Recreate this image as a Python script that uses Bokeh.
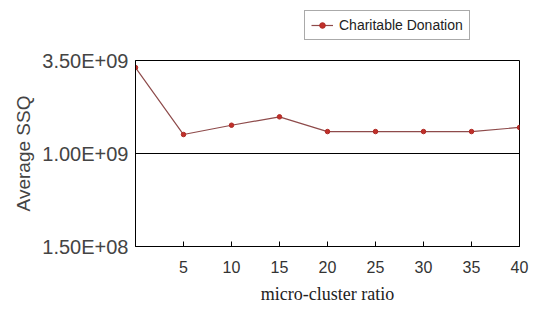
from bokeh.plotting import figure
from bokeh.layouts import column
from bokeh.models import FixedTicker, Legend, LegendItem, Range1d
from bokeh.embed import file_html
from bokeh.resources import INLINE

# ---- data ----
ratio = [0, 5, 10, 15, 20, 25, 30, 35, 40]
avg_ssq = [3.31e9, 1.51e9, 1.76e9, 1.985e9, 1.59e9, 1.59e9, 1.59e9, 1.59e9, 1.70e9]
series_name = "Charitable Donation"
x_ticks = [5, 10, 15, 20, 25, 30, 35, 40]
y_ticks = [-1.5e9, 1.0e9, 3.5e9]
y_tick_labels = ["1.50E+08", "1.00E+09", "3.50E+09"]

LINE_COLOR = "#8e4b4b"
DOT_FILL = "#c0302a"
DOT_LINE = "#b02a25"

# ---- legend strip (above the chart) ----
top = figure(width=529, height=48, output_backend="svg", toolbar_location=None,
             x_range=Range1d(0, 1), y_range=Range1d(0, 1),
             x_axis_location=None, y_axis_location=None,
             min_border_left=0, min_border_right=0, min_border_top=0, min_border_bottom=0)
top.outline_line_color = None
top.xgrid.grid_line_color = None
top.ygrid.grid_line_color = None
l2 = top.line(ratio, avg_ssq, line_color=LINE_COLOR, line_width=1.2, visible=False)
d2 = top.scatter(ratio, avg_ssq, size=4.5, fill_color=DOT_FILL, line_color=DOT_LINE, visible=False)
legend = Legend(items=[LegendItem(label=series_name, renderers=[l2, d2])],
                location=(169, 8), orientation="vertical",
                label_text_font="Liberation Sans", label_text_font_size="14px",
                label_text_color="#222222", glyph_width=22, glyph_height=14,
                label_height=14, label_standoff=6, padding=6, margin=0,
                border_line_color="#555555", border_line_width=1,
                background_fill_color="white", background_fill_alpha=1.0)
top.add_layout(legend, "center")

# ---- main chart ----
p = figure(width=529, height=274, output_backend="svg", toolbar_location=None,
           x_range=Range1d(0, 40), y_range=Range1d(y_ticks[0], y_ticks[-1]),
           min_border_left=135, min_border_right=10, min_border_top=12, min_border_bottom=76)

p.outline_line_color = "black"
p.outline_line_width = 1
p.background_fill_color = "white"

p.line(ratio, avg_ssq, line_color=LINE_COLOR, line_width=1.2)
p.scatter(ratio, avg_ssq, size=4.5, fill_color=DOT_FILL, line_color=DOT_LINE)

# x axis
p.xaxis.ticker = FixedTicker(ticks=x_ticks)
p.xaxis.axis_label = "micro-cluster ratio"
p.xaxis.axis_label_text_font = "Liberation Serif"
p.xaxis.axis_label_text_font_style = "normal"
p.xaxis.axis_label_text_font_size = "18px"
p.xaxis.axis_label_text_color = "#222222"
p.xaxis.axis_label_standoff = 8
p.xaxis.major_label_text_font = "Liberation Sans"
p.xaxis.major_label_text_font_size = "16px"
p.xaxis.major_label_text_color = "#333333"
p.xaxis.major_label_standoff = 14
p.xaxis.major_tick_in = 5
p.xaxis.major_tick_out = 0
p.xaxis.minor_tick_line_color = None
p.xaxis.axis_line_color = "black"
p.xaxis.major_tick_line_color = "black"

# y axis
p.yaxis.ticker = FixedTicker(ticks=y_ticks)
p.yaxis.major_label_overrides = {t: l for t, l in zip(y_ticks, y_tick_labels)}
p.yaxis.axis_label = "Average SSQ"
p.yaxis.axis_label_text_font = "Liberation Sans"
p.yaxis.axis_label_text_font_style = "normal"
p.yaxis.axis_label_text_font_size = "19px"
p.yaxis.axis_label_text_color = "#444444"
p.yaxis.axis_label_standoff = 5
p.yaxis.major_label_text_font = "Liberation Sans"
p.yaxis.major_label_text_font_size = "20px"
p.yaxis.major_label_text_color = "#444444"
p.yaxis.major_label_standoff = 7
p.yaxis.major_tick_in = 0
p.yaxis.major_tick_out = 0
p.yaxis.minor_tick_line_color = None
p.yaxis.axis_line_color = "black"

# grid
p.xgrid.grid_line_color = None
p.ygrid.ticker = FixedTicker(ticks=[1.0e9])
p.ygrid.grid_line_color = "black"
p.ygrid.grid_line_width = 1

layout = column(top, p, spacing=0)
open("out.html", "w").write(file_html(layout, INLINE))
